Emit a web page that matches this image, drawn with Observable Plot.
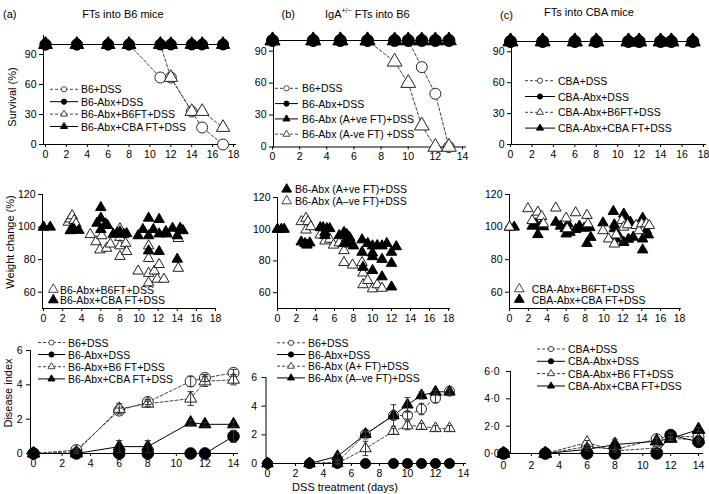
<!DOCTYPE html>
<html><head><meta charset="utf-8">
<script src="https://cdn.jsdelivr.net/npm/d3@7"></script>
<script src="https://cdn.jsdelivr.net/npm/@observablehq/plot@0.6"></script>
<style>
html,body{margin:0;padding:0;background:#fff;}
#fig{position:relative;width:709px;height:494px;overflow:hidden;background:#fff;}
#fig svg{position:absolute;left:0;top:0;}
</style></head><body><div id="fig"></div>
<script>
// ===================== DATA =====================
// Row 1: survival (%)
const survDaysA = [0, 3, 6, 8, 11, 12, 14, 15, 17];
const survA_B6DSS = [100, 100, 100, 100, 67, 67, 33, 17, 0];
const survA_B6Abx = [100, 100, 100, 100, 100, 100, 100, 100, 100];
const survA_B6FT  = [100, 100, 100, 100, 100, 67, 33, 33, 17];
const survA_CBAFT = [100, 100, 100, 100, 100, 100, 100, 100, 100];

const survDaysB = [0, 3, 5, 7, 9, 10, 11, 12, 13];
const survB_B6DSS = [100, 100, 100, 100, 100, 100, 75, 50, 0];
const survB_B6Abx = [100, 100, 100, 100, 100, 100, 100, 100, 100];
const survB_Apos  = [100, 100, 100, 100, 100, 100, 100, 100, 100];
const survB_Aneg  = [100, 100, 100, 100, 80, 60, 20, 0, 0];

const survDaysC = [0, 3, 6, 8, 11, 12, 14, 15, 17];
const survC_CBADSS = [100, 100, 100, 100, 100, 100, 100, 100, 100];
const survC_CBAAbx = [100, 100, 100, 100, 100, 100, 100, 100, 100];
const survC_B6FT   = [100, 100, 100, 100, 100, 100, 100, 100, 100];
const survC_CBAFT  = [100, 100, 100, 100, 100, 100, 100, 100, 100];

// Row 2: weight change (%), individual mice
const wA_B6FT_x = [0, 2.6, 2.8, 3.0, 3.2, 3.4, 4.9, 5.5, 5.9, 6.1, 6.6, 7.0, 8.0, 8.0, 8.0, 8.0, 8.6, 8.7, 9.9, 11.0, 11.0, 11.0, 11.0, 11.6, 11.9, 12.1, 12.6, 14.1, 14.1];
const wA_B6FT_y = [100, 103, 105, 107, 104, 102, 95.4, 91, 86, 94.7, 87, 89.6, 99, 93.7, 88.5, 82, 90, 85, 73, 71.6, 80.7, 65.8, 88.5, 73, 68, 77, 68, 74.7, 93];
const wA_CBAFT_x = [0, 0.7, 2.8, 3.0, 3.2, 3.7, 5.6, 6.0, 6.0, 6.0, 6.5, 6.7, 7.3, 7.7, 8.0, 8.4, 8.7, 9.9, 10.4, 11.0, 11.0, 11.0, 11.5, 12.1, 12.1, 12.1, 12.8, 12.9, 13.5, 14.0, 14.0, 14.3, 14.6];
const wA_CBAFT_y = [100, 100, 97.8, 99, 98.5, 98, 102.4, 112, 105.5, 98.5, 102, 101, 95.6, 96.4, 97, 95.6, 96, 94.7, 98.5, 105.5, 94.7, 85.4, 98.5, 104.7, 95.8, 85, 97.2, 95.8, 99.3, 94.7, 80.3, 99.3, 97.8];

const wB_Apos_x = [0, 0.4, 0.7, 2.5, 2.9, 3.1, 3.4, 4.5, 4.8, 5.2, 5.5, 5.0, 5.0, 6.5, 7.0, 7.3, 7.6, 7.0, 7.5, 8.0, 8.9, 8.9, 9.0, 9.5, 10.0, 10.5, 11.0, 11.5, 12.5, 10.0, 10.0, 11.0, 12.0, 12.0, 10.0, 11.0, 12.0];
const wB_Apos_y = [100, 100, 100, 92, 91, 90, 91.4, 101, 101, 100.4, 100.4, 98, 96, 96, 98, 96.6, 94.7, 91, 90.7, 89.5, 93.3, 85.5, 76, 91, 89.5, 89.7, 89.5, 91, 89, 85, 82.7, 81, 85.5, 78.5, 74, 70, 63.6];
const wB_Aneg_x = [0, 2.5, 3.0, 3.0, 3.2, 3.5, 4.5, 5.0, 5.5, 5.9, 6.5, 7.0, 7.0, 7.9, 7.5, 8.9, 9.0, 9.0, 9.5, 10.0, 10.5, 11.0];
const wB_Aneg_y = [100, 104.8, 106.9, 99.5, 104.8, 101.6, 96.4, 92.6, 93.7, 90, 91.4, 86.5, 79, 77.4, 91.4, 79, 72.4, 65, 67.7, 62.4, 65, 62.8];

const wC_B6FT_x = [0, 1.95, 2.4, 3.0, 3.4, 3.6, 4.9, 6.0, 6.1, 7.0, 8.2, 8.3, 9.9, 10.5, 11.1, 11.3, 11.9, 12.1, 12.5, 13.4, 13.7, 14.0, 14.5, 14.8];
const wC_B6FT_y = [100, 111.3, 104, 109.2, 106.5, 102, 111.7, 105.5, 99, 108.8, 107.2, 102, 97.8, 92.7, 89.6, 95.2, 104, 100, 101.4, 101, 97.8, 102, 102, 101];
const wC_CBAFT_x = [0, 0.5, 2.4, 2.8, 3.0, 3.3, 3.6, 4.9, 5.4, 5.9, 6.2, 6.0, 6.4, 7.0, 7.4, 7.9, 8.2, 8.5, 8.6, 9.9, 11.0, 11.1, 11.1, 11.5, 11.3, 12.1, 12.1, 12.4, 12.6, 12.8, 13.1, 14.1, 14.1, 14.1, 14.5, 14.7];
const wC_CBAFT_y = [100, 100, 100.6, 102, 95.4, 100.6, 100.2, 103, 100.6, 99, 102, 95.8, 96.8, 98.5, 100.6, 99.3, 90, 99.7, 93.7, 102.6, 109.6, 101.4, 99, 95.2, 92.7, 108, 90.6, 105, 92.6, 103, 93.8, 105.5, 92.7, 86, 97.8, 95.2];

// Row 3: disease index (mean, error)
const diDaysA = [0, 3, 6, 8, 11, 12, 14];
const diA_B6DSS = [0, 0.2, 2.5, 3.0, 4.2, 4.4, 4.7];
const diA_B6DSS_err = [0, 0.1, 0.15, 0.15, 0.3, 0.2, 0.2];
const diA_B6Abx = [0, 0, 0, 0, 0, 0, 1.0];
const diA_B6Abx_err = [0, 0, 0, 0, 0, 0, 0.35];
const diA_B6FT = [0, 0.1, 2.6, 2.9, 3.2, 4.2, 4.3];
const diA_B6FT_err = [0, 0.1, 0.3, 0.15, 0.4, 0.3, 0.3];
const diA_CBAFT = [0, 0, 0.4, 0.4, 1.8, 1.7, 1.7];
const diA_CBAFT_err = [0, 0, 0.35, 0.35, 0.15, 0.1, 0.15];

const diDaysB = [0, 3, 5, 7, 9, 10, 11, 12, 13];
const diB_B6DSS = [0, 0, 0.1, 2.05, 3.35, 3.35, 3.8, 4.55, 5.05];
const diB_B6DSS_err = [0, 0, 0.1, 0.15, 0.3, 0.25, 0.4, 0.3, 0.2];
const diB_B6Abx = [0, 0, 0, 0, 0, 0, 0, 0, 0];
const diB_B6Abx_err = [0, 0, 0, 0, 0, 0, 0, 0, 0];
const diB_Apos = [0, 0, 0, 1.05, 2.25, 2.65, 2.6, 2.45, 2.45];
const diB_Apos_err = [0, 0, 0.1, 0.5, 0.2, 0.3, 0.2, 0.2, 0.2];
const diB_Aneg = [0, 0, 0.5, 2.05, 3.35, 4.1, 4.75, 5.0, 5.0];
const diB_Aneg_err = [0, 0, 0.2, 0.2, 0.75, 0.5, 0.25, 0.1, 0.1];

const diDaysC = [0, 3, 6, 8, 11, 12, 14];
const diC_CBADSS = [0, 0, 0.5, 0.3, 1.05, 1.3, 1.2];
const diC_CBADSS_err = [0, 0, 0.1, 0.1, 0.15, 0.15, 0.1];
const diC_CBAAbx = [0, 0, 0, 0, 0, 1.35, 0.85];
const diC_CBAAbx_err = [0, 0, 0, 0, 0, 0.15, 0.15];
const diC_B6FT = [0, 0, 0.8, 0.2, 0.4, 1.1, 1.0];
const diC_B6FT_err = [0, 0, 0.15, 0.1, 0.1, 0.1, 0.1];
const diC_CBAFT = [0, 0, 0.3, 0.65, 0.9, 1.1, 1.75];
const diC_CBAFT_err = [0, 0, 0.1, 0.4, 0.2, 0.15, 0.15];

// Ticks
const ticks18 = [0, 2, 4, 6, 8, 10, 12, 14, 16, 18];
const ticks14 = [0, 2, 4, 6, 8, 10, 12, 14];
const survTicks = [0, 30, 60, 90];
const weightTicks = [60, 80, 100, 120];
const diseaseTicks = [0, 2, 4, 6];

// Texts
const panelTags = ["(a)", "(b)", "(c)"];
const panelTitles = ["FTs into B6 mice", "FTs into B6", "FTs into CBA mice"];
const yTitles = ["Survival (%)", "Weight change (%)", "Disease index"];
const xTitle = "DSS treatment (days)";
const legendTopA = ["B6+DSS", "B6-Abx+DSS", "B6-Abx+B6FT+DSS", "B6-Abx+CBA FT+DSS"];
const legendTopB = ["B6+DSS", "B6-Abx+DSS", "B6-Abx (A+ve FT)+DSS", "B6-Abx (A-ve FT) +DSS"];
const legendTopC = ["CBA+DSS", "CBA-Abx+DSS", "CBA-Abx+B6FT+DSS", "CBA-Abx+CBA FT+DSS"];
const legendMidA = ["B6-Abx+B6FT+DSS", "B6-Abx+CBA FT+DSS"];
const legendMidB = ["B6-Abx (A+ve FT)+DSS", "B6-Abx (A\u2013ve FT)+DSS"];
const legendMidC = ["CBA-Abx+B6FT+DSS", "CBA-Abx+CBA FT+DSS"];
const legendBotA = ["B6+DSS", "B6-Abx+DSS", "B6-Abx+B6 FT+DSS", "B6-Abx+CBA FT+DSS"];
const legendBotB = ["B6+DSS", "B6-Abx+DSS", "B6-Abx (A+ FT)+DSS", "B6-Abx (A\u2013ve FT)+DSS"];
const legendBotC = ["CBA+DSS", "CBA-Abx+DSS", "CBA-Abx+B6 FT+DSS", "CBA-Abx+CBA FT+DSS"];

// ===================== DRAWING =====================
const W = 709, H = 494;
const FONT = '"Liberation Sans", Arial, Helvetica, sans-serif';
const DASH = "3,2";
const GRAY = "#444";
const fig = document.getElementById("fig");

const pts = (xs, ys, es) => xs.map((x, i) => ({x, y: ys[i], e: es ? es[i] : 0}));
const intFmt = d => String(d);

function panel({frame, xDomain, xRange, xTicks, yDomain, yRange, yTicks, yFormat = intFmt, xPad = 2, yPad = 3, marks}) {
  const [fl, ft, fr, fb] = frame;
  const svg = Plot.plot({
    width: W, height: H,
    marginLeft: fl, marginTop: ft, marginRight: W - fr, marginBottom: H - fb,
    style: {background: "none", fontFamily: FONT, fontSize: "10.5px", color: "#000", overflow: "visible"},
    x: {domain: xDomain, range: xRange, ticks: xTicks, tickFormat: intFmt, line: true, tickSize: 3, tickPadding: xPad, label: null},
    y: {domain: yDomain, range: yRange, ticks: yTicks, tickFormat: yFormat, line: true, tickSize: 4, tickPadding: yPad, label: null},
    marks
  });
  svg.style.position = "absolute";
  svg.style.left = "0px";
  svg.style.top = "0px";
  svg.style.maxWidth = "none";
  fig.appendChild(svg);
}

function lineMark(data, dashed) {
  return Plot.line(data, {x: "x", y: "y", stroke: dashed ? GRAY : "#000", strokeWidth: 1, strokeDasharray: dashed ? DASH : null});
}
function dotMark(data, sym, filled, r) {
  return Plot.dot(data, {x: "x", y: "y", symbol: sym, r, fill: filled ? "#000" : "#fff", stroke: filled ? "#000" : "#222", strokeWidth: 1});
}
function errMarks(data, cap) {
  const d = data.filter(p => p.e > 0);
  return [
    Plot.ruleX(d, {x: "x", y1: p => p.y - p.e, y2: p => p.y + p.e, stroke: "#333", strokeWidth: 1}),
    Plot.link(d, {x1: p => p.x - cap, x2: p => p.x + cap, y1: p => p.y + p.e, y2: p => p.y + p.e, stroke: "#333", strokeWidth: 1}),
    Plot.link(d, {x1: p => p.x - cap, x2: p => p.x + cap, y1: p => p.y - p.e, y2: p => p.y - p.e, stroke: "#333", strokeWidth: 1})
  ];
}

// ---------- Row 1 ----------
{
  const s1 = pts(survDaysA, survA_B6DSS), s2 = pts(survDaysA, survA_B6Abx), s3 = pts(survDaysA, survA_B6FT), s4 = pts(survDaysA, survA_CBAFT);
  panel({frame: [43, 35, 235, 144], xDomain: [0, 18], xRange: [45, 233], xTicks: ticks18,
    yDomain: [0, 100], yRange: [144, 44], yTicks: survTicks, xPad: 3,
    marks: [lineMark(s1, true), lineMark(s3, true), lineMark(s2, false), lineMark(s4, false),
      dotMark(s1, "circle", false, 5.5), dotMark(s3, "triangle", false, 5),
      dotMark(s2, "circle", true, 5.5), dotMark(s4, "triangle", true, 5)]});
}
{
  const s1 = pts(survDaysB, survB_B6DSS), s2 = pts(survDaysB, survB_B6Abx), s3 = pts(survDaysB, survB_Apos), s4 = pts(survDaysB, survB_Aneg);
  panel({frame: [273, 35, 465, 146.5], xDomain: [0, 14], xRange: [272, 462], xTicks: ticks14,
    yDomain: [0, 100], yRange: [146.5, 40], yTicks: survTicks, xPad: 3,
    marks: [lineMark(s1, true), lineMark(s4, true), lineMark(s2, false), lineMark(s3, false),
      dotMark(s1, "circle", false, 5.5), dotMark(s4, "triangle", false, 5.5),
      dotMark(s2, "circle", true, 6), dotMark(s3, "triangle", true, 5.5)]});
}
{
  const s1 = pts(survDaysC, survC_CBADSS), s2 = pts(survDaysC, survC_CBAAbx), s3 = pts(survDaysC, survC_B6FT), s4 = pts(survDaysC, survC_CBAFT);
  panel({frame: [511, 35, 705, 144], xDomain: [0, 18], xRange: [510, 703], xTicks: ticks18,
    yDomain: [0, 100], yRange: [144, 41], yTicks: survTicks, xPad: 3,
    marks: [lineMark(s1, true), lineMark(s3, true), lineMark(s2, false), lineMark(s4, false),
      dotMark(s1, "circle", false, 5.5), dotMark(s3, "triangle", false, 5.5),
      dotMark(s2, "circle", true, 6), dotMark(s4, "triangle", true, 5.5)]});
}

// ---------- Row 2 ----------
panel({frame: [42, 194, 215, 308], xDomain: [0, 18], xRange: [43, 215], xTicks: ticks18,
  yDomain: [50, 120], yRange: [308, 194], yTicks: weightTicks, xPad: 3,
  marks: [dotMark(pts(wA_B6FT_x, wA_B6FT_y), "triangle", false, 3.9), dotMark(pts(wA_CBAFT_x, wA_CBAFT_y), "triangle", true, 3.9)]});
panel({frame: [277, 197, 449, 308], xDomain: [0, 18], xRange: [277, 448], xTicks: ticks18,
  yDomain: [50, 120], yRange: [308, 197], yTicks: weightTicks, xPad: 3,
  marks: [dotMark(pts(wB_Aneg_x, wB_Aneg_y), "triangle", false, 3.9), dotMark(pts(wB_Apos_x, wB_Apos_y), "triangle", true, 3.9)]});
panel({frame: [509, 194, 680, 308], xDomain: [0, 18], xRange: [509, 679], xTicks: ticks18,
  yDomain: [50, 120], yRange: [308, 194], yTicks: weightTicks, xPad: 3,
  marks: [dotMark(pts(wC_CBAFT_x, wC_CBAFT_y), "triangle", true, 3.9), dotMark(pts(wC_B6FT_x, wC_B6FT_y), "triangle", false, 3.9)]});

// ---------- Row 3 ----------
{
  const s1 = pts(diDaysA, diA_B6DSS, diA_B6DSS_err), s2 = pts(diDaysA, diA_B6Abx, diA_B6Abx_err),
        s3 = pts(diDaysA, diA_B6FT, diA_B6FT_err), s4 = pts(diDaysA, diA_CBAFT, diA_CBAFT_err);
  panel({frame: [30, 350, 237, 453], xDomain: [0, 14], xRange: [33, 233], xTicks: ticks14,
    yDomain: [0, 6], yRange: [453, 350], yTicks: diseaseTicks, xPad: 3, yPad: 4,
    marks: [lineMark(s1, true), lineMark(s3, true), lineMark(s2, false), lineMark(s4, false),
      dotMark(s1, "circle", false, 5.5), dotMark(s3, "triangle", false, 4.5),
      dotMark(s2, "circle", true, 5.8), dotMark(s4, "triangle", true, 4.5),
      ...errMarks(s1, 0.22), ...errMarks(s3, 0.22), ...errMarks(s2, 0.22), ...errMarks(s4, 0.22)]});
}
{
  const s1 = pts(diDaysB, diB_B6DSS, diB_B6DSS_err), s2 = pts(diDaysB, diB_B6Abx, diB_B6Abx_err),
        s3 = pts(diDaysB, diB_Apos, diB_Apos_err), s4 = pts(diDaysB, diB_Aneg, diB_Aneg_err);
  panel({frame: [265.5, 377, 465, 463], xDomain: [0, 14], xRange: [267, 463], xTicks: ticks14,
    yDomain: [0, 6], yRange: [463, 377], yTicks: diseaseTicks, xPad: 3, yPad: 5,
    marks: [lineMark(s1, true), lineMark(s3, true), lineMark(s2, false), lineMark(s4, false),
      dotMark(s1, "circle", false, 5), dotMark(s3, "triangle", false, 4.2),
      dotMark(s2, "circle", true, 5), dotMark(s4, "triangle", true, 4.2),
      ...errMarks(s1, 0.2), ...errMarks(s3, 0.2), ...errMarks(s4, 0.2)]});
}
{
  const s1 = pts(diDaysC, diC_CBADSS, diC_CBADSS_err), s2 = pts(diDaysC, diC_CBAAbx, diC_CBAAbx_err),
        s3 = pts(diDaysC, diC_B6FT, diC_B6FT_err), s4 = pts(diDaysC, diC_CBAFT, diC_CBAFT_err);
  panel({frame: [510, 371, 702, 453], xDomain: [0, 14], xRange: [503, 698], xTicks: ticks14,
    yDomain: [0, 6], yRange: [453, 371], yTicks: diseaseTicks, yFormat: d => d.toFixed(1).replace(".", "\u00b7"),
    xPad: 5, yPad: 7,
    marks: [lineMark(s1, true), lineMark(s3, true), lineMark(s2, false), lineMark(s4, false),
      dotMark(s1, "circle", false, 5.5), dotMark(s3, "triangle", false, 4.5),
      dotMark(s2, "circle", true, 5.8), dotMark(s4, "triangle", true, 4.8),
      ...errMarks(s1, 0.2), ...errMarks(s3, 0.2), ...errMarks(s2, 0.2), ...errMarks(s4, 0.2)]});
}

// ---------- Text overlay (titles, axis titles, legends) ----------
const ov = d3.select(fig).append("svg").attr("width", W).attr("height", H)
  .style("font-family", FONT).style("overflow", "visible");

function txt(x, y, s, opt = {}) {
  return ov.append("text").attr("x", x).attr("y", y).attr("dominant-baseline", "central")
    .attr("text-anchor", opt.anchor || "start").attr("font-size", opt.size || 10.5)
    .attr("transform", opt.rotate ? `rotate(-90,${x},${y})` : null).attr("fill", "#000").text(s);
}
txt(3, 14, panelTags[0], {size: 11});
txt(123, 14, panelTitles[0], {anchor: "middle", size: 11});
txt(281.5, 14, panelTags[1], {size: 11});
{
  const t = ov.append("text").attr("x", 325).attr("y", 14).attr("dominant-baseline", "central").attr("font-size", 11).attr("fill", "#000");
  t.append("tspan").text("IgA");
  t.append("tspan").attr("dy", -4).attr("font-size", 7).text("+/\u2212");
  t.append("tspan").attr("dy", 4).text(" " + panelTitles[1]);
}
txt(500, 15, panelTags[2], {size: 11});
txt(589, 12, panelTitles[2], {anchor: "middle", size: 11});
txt(12, 97, yTitles[0], {anchor: "middle", rotate: true, size: 11});
txt(10, 242, yTitles[1], {anchor: "middle", rotate: true, size: 11});
txt(8, 393, yTitles[2], {anchor: "middle", rotate: true, size: 11});
txt(345, 487, xTitle, {anchor: "middle", size: 11});

const STY4 = [
  {dash: true, sym: "circle", filled: false},
  {dash: false, sym: "circle", filled: true},
  {dash: true, sym: "triangle", filled: false},
  {dash: false, sym: "triangle", filled: true}
];
const STY4B = [STY4[0], STY4[1], STY4[3], STY4[2]];

function marker(x, y, sym, filled, r) {
  const type = sym === "circle" ? d3.symbolCircle : d3.symbolTriangle;
  ov.append("path").attr("d", d3.symbol(type, Math.PI * r * r)())
    .attr("transform", `translate(${x},${y})`)
    .attr("fill", filled ? "#000" : "#fff").attr("stroke", filled ? "#000" : GRAY).attr("stroke-width", 1);
}
function legend({x1, x2, tx, ys, labels, styles, r = 2.6}) {
  labels.forEach((lab, i) => {
    const s = styles[i], y = ys[i];
    if (x1 != null) {
      ov.append("line").attr("x1", x1).attr("x2", x2).attr("y1", y).attr("y2", y)
        .attr("stroke", s.dash ? GRAY : "#000").attr("stroke-width", 1).attr("stroke-dasharray", s.dash ? DASH : null);
      marker((x1 + x2) / 2, y, s.sym, s.filled, r);
    } else {
      marker(x2, y, s.sym, s.filled, r);
    }
    txt(tx, y, lab);
  });
}
legend({x1: 50, x2: 78, tx: 81, ys: [89.3, 101.7, 114.1, 126.5], labels: legendTopA, styles: STY4});
legend({x1: 275, x2: 298, tx: 302, ys: [88.3, 103.6, 118.9, 134.2], labels: legendTopB, styles: STY4B});
legend({x1: 525, x2: 555, tx: 558, ys: [80.7, 96.5, 112.3, 128.1], labels: legendTopC, styles: STY4});

const O = {sym: "triangle", filled: false}, F = {sym: "triangle", filled: true};
legend({x1: null, x2: 53.3, tx: 60, ys: [289.5, 300], labels: legendMidA, styles: [O, F], r: 3.6});
legend({x1: null, x2: 286.7, tx: 295, ys: [189.3, 201], labels: legendMidB, styles: [F, O], r: 3.6});
legend({x1: null, x2: 519.3, tx: 531.7, ys: [289, 299.5], labels: legendMidC, styles: [O, F], r: 3.6});

legend({x1: 38, x2: 65, tx: 68, ys: [342.5, 354.5, 366.7, 378.9], labels: legendBotA, styles: STY4});
legend({x1: 277, x2: 305, tx: 308, ys: [342.8, 354.5, 366.2, 377.9], labels: legendBotB, styles: STY4});
legend({x1: 537, x2: 565, tx: 568, ys: [349, 361.3, 373.6, 386], labels: legendBotC, styles: STY4});
</script></body></html>
